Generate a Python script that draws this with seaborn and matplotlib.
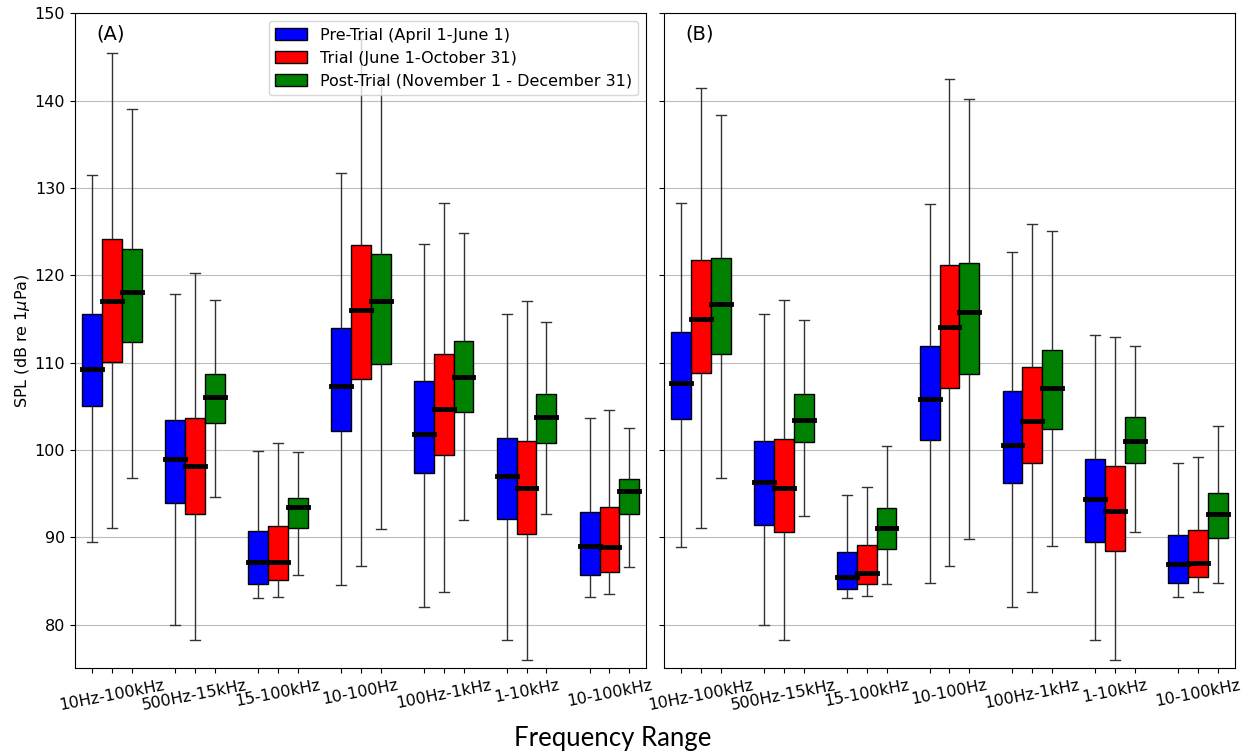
import numpy as np
import pandas as pd
import matplotlib
matplotlib.use("Agg")
import matplotlib.pyplot as plt
from matplotlib.patches import Patch
import seaborn as sns

# ---------------- data ----------------
ranges = ["10Hz-100kHz", "500Hz-15kHz", "15-100kHz", "10-100Hz",
          "100Hz-1kHz", "1-10kHz", "10-100kHz"]
periods = ["Pre-Trial (April 1-June 1)", "Trial (June 1-October 31)",
           "Post-Trial (November 1 - December 31)"]
colors = ["#0000ff", "#ff0000", "#008000"]

# five-number summaries per range: [whisker low, Q1, median, Q3, whisker high]
a_pre = [[89.4, 105.0, 109.3, 115.6, 131.5],
         [79.9, 93.9, 98.95, 103.45, 117.8],
         [83.0, 84.6, 87.2, 90.7, 99.9],
         [84.5, 102.2, 107.3, 114.0, 131.75],
         [82.0, 97.35, 101.8, 107.85, 123.6],
         [78.2, 92.05, 97.0, 101.4, 115.55],
         [83.2, 85.7, 89.0, 92.85, 103.7]]
a_trial = [[91.0, 110.05, 117.0, 124.2, 145.4],
           [78.2, 92.65, 98.1, 103.6, 120.2],
           [83.1, 85.15, 87.2, 91.3, 100.75],
           [86.75, 108.1, 116.0, 123.5, 147.0],
           [83.7, 99.4, 104.7, 111.0, 128.3],
           [75.9, 90.4, 95.6, 101.05, 117.05],
           [83.5, 86.05, 88.85, 93.5, 104.6]]
a_post = [[96.8, 112.4, 118.1, 122.95, 139.0],
          [94.65, 103.1, 106.0, 108.65, 117.15],
          [85.7, 91.05, 93.45, 94.5, 99.7],
          [90.9, 109.8, 117.0, 122.4, 142.5],
          [91.95, 104.35, 108.3, 112.45, 124.8],
          [92.6, 100.8, 103.8, 106.4, 114.6],
          [86.55, 92.6, 95.25, 96.65, 102.55]]

b_pre = [[88.9, 103.55, 107.7, 113.45, 128.3],
         [79.9, 91.4, 96.3, 101.05, 115.6],
         [83.05, 84.1, 85.4, 88.35, 94.8],
         [84.7, 101.1, 105.8, 111.9, 128.2],
         [81.95, 96.15, 100.55, 106.7, 122.7],
         [78.2, 89.5, 94.35, 99.0, 113.2],
         [83.2, 84.8, 86.9, 90.3, 98.55]]
b_trial = [[91.0, 108.8, 115.0, 121.8, 141.4],
           [78.2, 90.6, 95.6, 101.2, 117.15],
           [83.3, 84.6, 85.9, 89.1, 95.8],
           [86.7, 107.05, 114.05, 121.2, 142.45],
           [83.7, 98.5, 103.3, 109.45, 125.9],
           [75.9, 88.4, 93.0, 98.1, 112.95],
           [83.7, 85.4, 87.1, 90.85, 99.15]]
b_post = [[96.8, 110.95, 116.7, 121.95, 138.4],
          [92.4, 100.85, 103.45, 106.45, 114.9],
          [84.65, 88.6, 91.1, 93.4, 100.45],
          [89.8, 108.7, 115.8, 121.35, 140.2],
          [88.95, 102.4, 107.1, 111.45, 125.1],
          [90.55, 98.5, 101.05, 103.8, 111.85],
          [84.8, 89.9, 92.6, 95.1, 102.75]]

panels = {"A": [a_pre, a_trial, a_post], "B": [b_pre, b_trial, b_post]}

rows = []
for panel, stats in panels.items():
    for period, series in zip(periods, stats):
        for rng, five in zip(ranges, series):
            for v in five:
                rows.append({"panel": panel, "range": rng, "period": period, "spl": v})
df = pd.DataFrame(rows)

# ---------------- figure ----------------
fig = plt.figure(figsize=(12.48, 7.55), dpi=100)
ax_a = fig.add_axes([0.060, 0.115, 0.458, 0.8674])
ax_b = fig.add_axes([0.532, 0.115, 0.4576, 0.8674], sharey=ax_a)

box_width = 0.72
n_h = len(periods)
offsets = (np.arange(n_h) - (n_h - 1) / 2) * box_width / n_h
tick_pos = (np.arange(len(ranges))[:, None] + offsets[None, :]).ravel()
tick_lab = []
for r in ranges:
    tick_lab += ["", r, ""]

for ax, (panel, tag) in zip([ax_a, ax_b], [("A", "(A)"), ("B", "(B)")]):
    sns.boxplot(data=df[df["panel"] == panel], x="range", y="spl", hue="period",
                order=ranges, hue_order=periods, palette=colors, saturation=1,
                width=box_width, gap=0, whis=(0, 100), showfliers=False,
                linecolor="black", linewidth=1,
                whiskerprops=dict(color="#333333"), capprops=dict(color="#333333"),
                medianprops=dict(color="black", linewidth=3.5,
                                 solid_capstyle="projecting"),
                legend=False, ax=ax)
    ax.set_xlim(-0.446, len(ranges) - 1 + 0.446)
    ax.set_ylim(75, 150)
    ax.set_yticks(np.arange(80, 151, 10))
    ax.set_xticks(tick_pos)
    ax.set_xticklabels(tick_lab, rotation=11, fontsize=11.5)
    ax.tick_params(axis="y", labelsize=11.5)
    ax.yaxis.grid(True, color="#bdbdbd", linewidth=0.8)
    ax.set_axisbelow(True)
    ax.set_xlabel("")
    ax.set_ylabel("")
    ax.text(0.038, 0.968, tag, transform=ax.transAxes, fontsize=14,
            ha="left", va="center")

ax_a.set_ylabel(r"SPL (dB re 1$\mu$Pa)", fontsize=11.5, labelpad=2)
plt.setp(ax_b.get_yticklabels(), visible=False)

handles = [Patch(facecolor=c, edgecolor="black", label=p) for c, p in zip(colors, periods)]
ax_a.legend(handles=handles, loc="upper right", fontsize=11.5)

fig.text(0.491, 0.012, "Frequency Range", ha="center", va="baseline",
         fontsize=18.5, family=["Lato", "DejaVu Sans"])

fig.savefig("out.png", dpi=100)
